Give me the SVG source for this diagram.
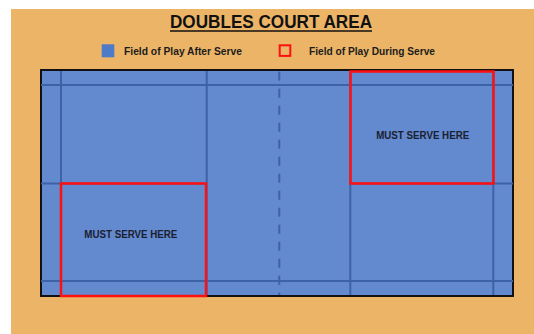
<svg xmlns="http://www.w3.org/2000/svg" width="534" height="334" viewBox="0 0 534 334">
  <style>
    .bg { fill: #ebb466; }
    .court { fill: #6389cf; stroke: #111111; stroke-width: 2; }
    .cl { stroke: #3e62a6; stroke-width: 2; fill: none; }
    .dash { stroke: #3e62a6; stroke-width: 2; stroke-dasharray: 9 8; fill: none; }
    .serve { fill: none; stroke: #ff1010; stroke-width: 2.5; }
    .title { font-family: "Liberation Sans", Arial, sans-serif; font-weight: bold; font-size: 18px; fill: #111111; }
    .leg { font-family: "Liberation Sans", Arial, sans-serif; font-weight: bold; font-size: 10px; fill: #1c1c1c; }
    .lab { font-family: "Liberation Sans", Arial, sans-serif; font-weight: bold; font-size: 10px; fill: #1a2030; }
  </style>
  <rect x="0" y="0" width="534" height="334" fill="#ffffff"/>
  <rect class="bg" x="11" y="9" width="523" height="325"/>

  <g id="title">
    <text class="title" x="271" y="28" text-anchor="middle" textLength="202" lengthAdjust="spacingAndGlyphs">DOUBLES COURT AREA</text>
    <line x1="170" y1="31" x2="372" y2="31" stroke="#111111" stroke-width="1.6"/>
  </g>

  <g id="legend-after">
    <rect x="101.7" y="44.3" width="12.6" height="13" fill="#4f7ac8"/>
    <text class="leg" x="124" y="54.5" textLength="118" lengthAdjust="spacingAndGlyphs">Field of Play After Serve</text>
  </g>
  <g id="legend-during">
    <rect x="279.7" y="45.3" width="10.6" height="10.6" fill="none" stroke="#ff1010" stroke-width="2"/>
    <text class="leg" x="309" y="54.5" textLength="126" lengthAdjust="spacingAndGlyphs">Field of Play During Serve</text>
  </g>

  <g id="court">
    <rect class="court" x="41" y="70" width="472" height="226"/>
  </g>

  <g id="court-lines">
    <line class="cl" x1="41" y1="85" x2="513" y2="85"/>
    <line class="cl" x1="41" y1="281" x2="513" y2="281"/>
    <line class="cl" x1="61" y1="71" x2="61" y2="295"/>
    <line class="cl" x1="206.7" y1="71" x2="206.7" y2="295"/>
    <line class="cl" x1="350.3" y1="71" x2="350.3" y2="295"/>
    <line class="cl" x1="493.3" y1="71" x2="493.3" y2="295"/>
    <line class="cl" x1="41" y1="183.5" x2="206.7" y2="183.5"/>
    <line class="cl" x1="350.3" y1="183.5" x2="513" y2="183.5"/>
    <line class="dash" x1="279.3" y1="71.7" x2="279.3" y2="295"/>
  </g>

  <g id="serve-right">
    <rect class="serve" x="350.5" y="71.5" width="143" height="112"/>
    <text class="lab" x="422.7" y="138.5" text-anchor="middle" textLength="93" lengthAdjust="spacingAndGlyphs">MUST SERVE HERE</text>
  </g>
  <g id="serve-left">
    <rect class="serve" x="61" y="183.5" width="145" height="112.5"/>
    <text class="lab" x="130.8" y="237.5" text-anchor="middle" textLength="93" lengthAdjust="spacingAndGlyphs">MUST SERVE HERE</text>
  </g>
</svg>
